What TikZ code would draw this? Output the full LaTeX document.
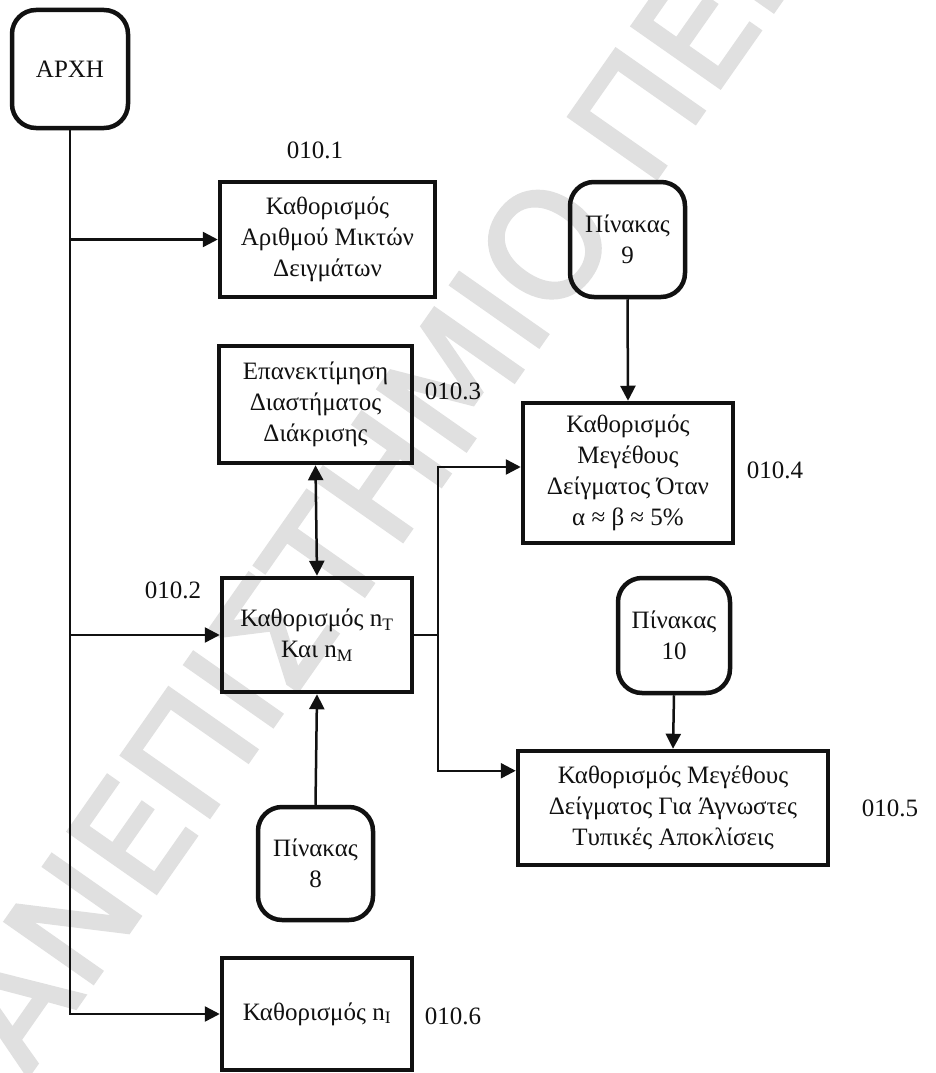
\documentclass[tikz,border=0pt]{standalone}
\usepackage{fontspec}
\setmainfont{Liberation Serif}
\newfontfamily\wmfont[FakeBold=2.5]{DejaVu Sans}
\usetikzlibrary{arrows.meta}
\definecolor{ink}{HTML}{111111}
\definecolor{wmgray}{HTML}{E0E0E0}
\begin{document}
\begin{tikzpicture}[x=1pt,y=-1pt,
  proc/.style={draw=ink, text=ink, line width=4.5pt, align=center, inner sep=0pt,
    font=\fontsize{25}{31}\selectfont},
  tbl/.style={proc, rounded corners=24pt},
  tag/.style={text=ink, inner sep=0pt, font=\fontsize{25}{31}\selectfont},
  link/.style={draw=ink, line width=2.5pt},
  arr/.style={link, -{Triangle[length=15pt,width=15pt]}},
  biarr/.style={link, {Triangle[length=15pt,width=15pt]}-{Triangle[length=15pt,width=15pt]}}
]
\useasboundingbox (0,0) rectangle (935,1073);
\fill[white] (0,0) rectangle (935,1073);

% background watermark
\node[text=wmgray, inner sep=0pt, anchor=west, rotate=55,
      font=\wmfont\fontsize{147}{147}\selectfont] (wmark) at (-80,1137)
      {ΠΑΝΕΠΙΣΤΗΜΙΟ ΠΕΙΡΑΙΩΣ};

% start and reference tables
\node[tbl, minimum width=116pt, minimum height=118pt] (start) at (70,69) {ΑΡΧΗ};
\node[tbl, minimum width=115pt, minimum height=115pt] (p9) at (627.5,239.5) {Πίνακας\\9};
\node[tbl, minimum width=112pt, minimum height=115pt] (p10) at (674,635.5) {Πίνακας\\10};
\node[tbl, minimum width=115pt, minimum height=113pt] (p8) at (315.5,863.5) {Πίνακας\\8};

% process boxes
\node[proc, minimum width=215pt, minimum height=115pt] (b1) at (327.5,239.5)
  {Καθορισμός\\Αριθμού Μικτών\\Δειγμάτων};
\node[proc, minimum width=193pt, minimum height=117pt] (b3) at (315.5,404.5)
  {Επανεκτίμηση\\Διαστήματος\\Διάκρισης};
\node[proc, minimum width=210pt, minimum height=140pt] (b4) at (628,473)
  {Καθορισμός\\Μεγέθους\\Δείγματος Όταν\\α ≈ β ≈ 5\%};
\node[proc, minimum width=190pt, minimum height=114pt] (b2) at (317,635)
  {Καθορισμός n\textsubscript{T}\\Και n\textsubscript{M}};
\node[proc, minimum width=310pt, minimum height=114pt] (b5) at (673,808)
  {Καθορισμός Μεγέθους\\Δείγματος Για Άγνωστες\\Τυπικές Αποκλίσεις};
\node[proc, minimum width=190pt, minimum height=112pt] (b6) at (317,1014)
  {Καθορισμός n\textsubscript{I}};

% step numbers
\node[tag] (t1) at (315,150) {010.1};
\node[tag] (t2) at (173,590) {010.2};
\node[tag] (t3) at (453,391) {010.3};
\node[tag] (t4) at (775,470) {010.4};
\node[tag] (t5) at (890,808) {010.5};
\node[tag] (t6) at (453,1016) {010.6};

% main trunk and its branches
\draw[arr] (start.south) |- (b6.west);
\draw[arr] (start.south |- b1.west) -- (b1.west);
\draw[arr] (start.south |- b2.west) -- (b2.west);

% inputs from tables
\draw[arr] (p9.south) -- (b4.north);
\draw[arr] (p10.south) -- (b5.north);
\draw[arr] (p8.north) -- (b2.south);
\draw[biarr] (b3.south) -- (b2.north);

% fork to the sample size boxes
\coordinate (fork) at (438,635);
\draw[link] (b2.east) -- (fork);
\draw[arr] (fork) |- ([yshift=6pt]b4.west);
\draw[arr] (fork) |- ([yshift=-22pt]b5.north west);
\end{tikzpicture}
\end{document}
